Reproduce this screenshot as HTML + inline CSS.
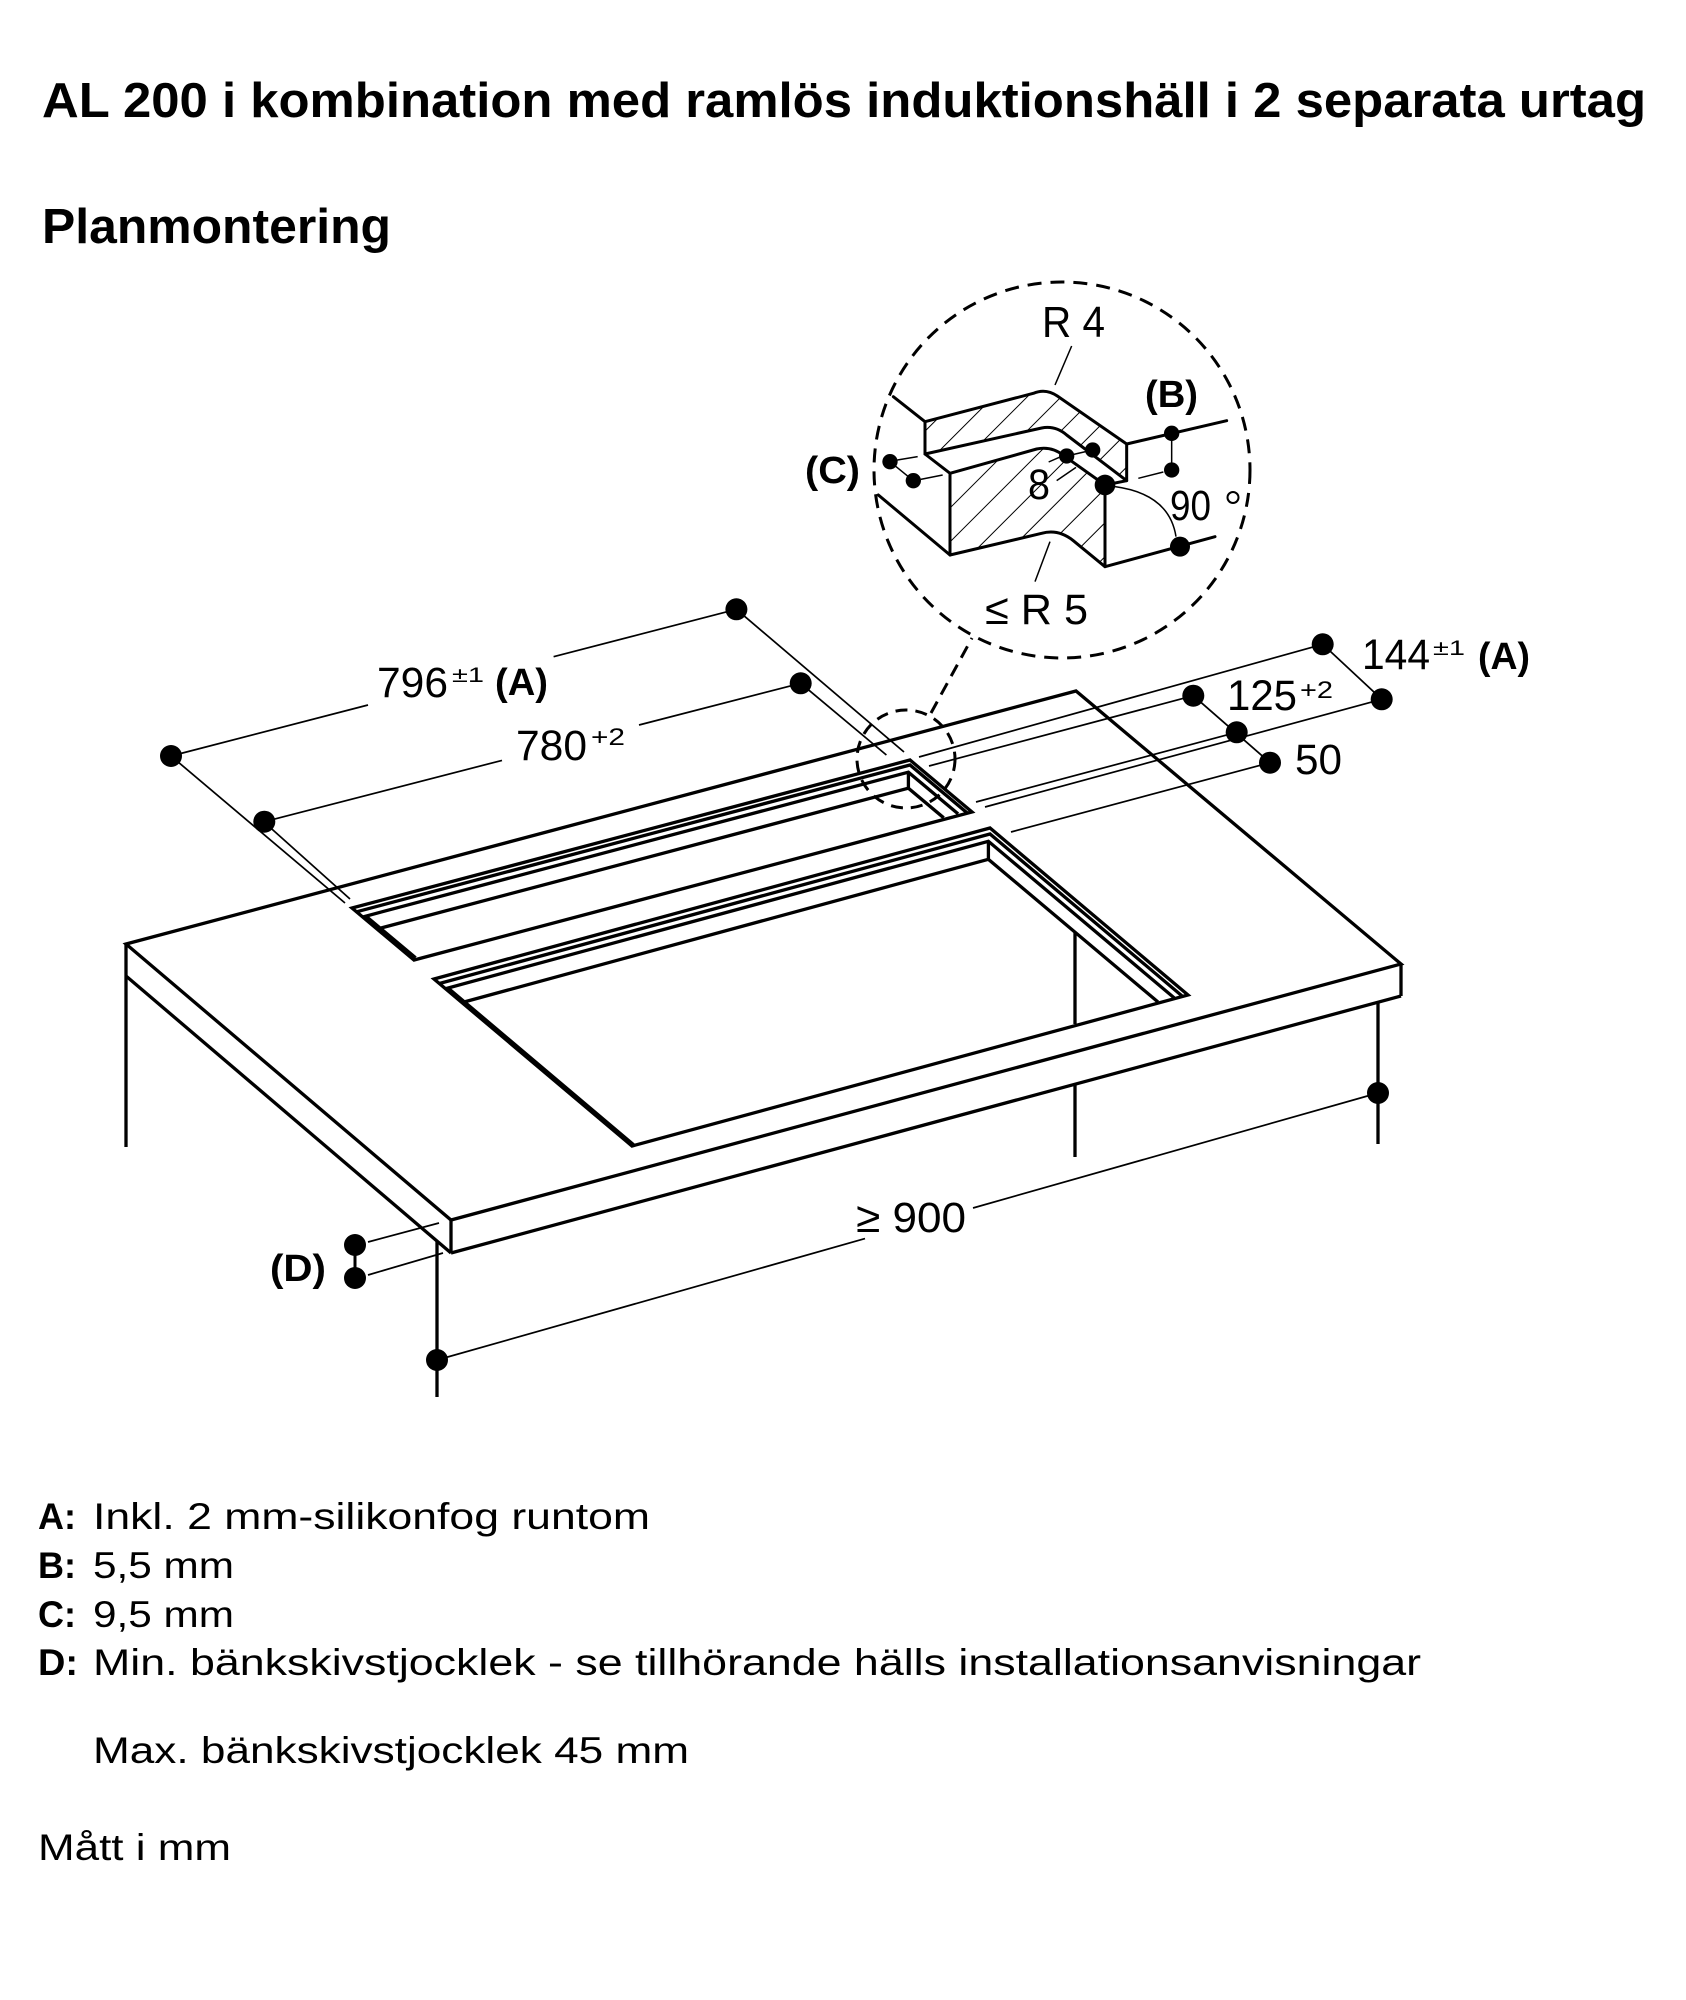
<!DOCTYPE html>
<html>
<head>
<meta charset="utf-8">
<style>
html,body{margin:0;padding:0;background:#fff;}
svg{display:block;}
text{font-family:"Liberation Sans",Arial,sans-serif;fill:#000;}
</style>
</head>
<body>
<svg xmlns="http://www.w3.org/2000/svg" width="1686" height="2000" viewBox="0 0 1686 2000">
<defs>
<pattern id="hatch" patternUnits="userSpaceOnUse" width="72" height="72" patternTransform="rotate(45)">
<line x1="0" y1="0" x2="0" y2="72" stroke="#000" stroke-width="6"/>
</pattern>
</defs>
<rect width="1686" height="2000" fill="#fff"/>

<!-- Titles -->
<text x="42" y="117" font-size="49" font-weight="bold" textLength="1604" lengthAdjust="spacingAndGlyphs">AL 200 i kombination med ramlös induktionshäll i 2 separata urtag</text>
<text x="42" y="243" font-size="49" font-weight="bold" textLength="349" lengthAdjust="spacingAndGlyphs">Planmontering</text>

<!-- Slab -->
<g fill="none" stroke="#000" stroke-width="3.3" stroke-linejoin="miter" stroke-linecap="butt">
<polygon points="126,944 1076,691 1401,964 451,1220"/>
<line x1="126" y1="944" x2="126" y2="1147"/>
<line x1="126" y1="976" x2="451" y2="1253"/>
<line x1="451" y1="1220" x2="451" y2="1253"/>
<line x1="451" y1="1253" x2="1401" y2="996"/>
<line x1="1401" y1="964" x2="1401" y2="996"/>
<line x1="437" y1="1241" x2="437" y2="1397"/>
<line x1="1378" y1="1002" x2="1378" y2="1144"/>
<line x1="1075" y1="933" x2="1075" y2="1024"/>
<line x1="1075" y1="1084" x2="1075" y2="1157"/>

<!-- Narrow cutout -->
<polygon points="352,908 910,760 972,812 414,960"/>
<polyline points="356.5,911.8 910,765 967.5,813.2"/>
<polyline points="415.6,957.8 365.9,916.1 908.4,772.2 958.1,813.9"/>
<polyline points="380.3,928.2 908.4,788.2 943.7,817.8"/>
<line x1="908.4" y1="772.2" x2="908.4" y2="788.2"/>

<!-- Big cutout -->
<polygon points="434,979 990,828 1188,995 632,1146"/>
<polyline points="439.4,983.5 990,834 1182.7,996.5"/>
<polyline points="633.6,1144.7 448,988 988.4,841.3 1174.2,997.9"/>
<polyline points="464,1002 988.4,859.3 1158,1002"/>
<line x1="988.4" y1="841.3" x2="988.4" y2="859.3"/>
</g>

<!-- Dimension lines -->
<g fill="none" stroke="#000" stroke-width="1.7">
<line x1="171" y1="756" x2="368" y2="705"/>
<line x1="553.6" y1="656.7" x2="736.4" y2="609.3"/>
<line x1="264.3" y1="821.7" x2="502" y2="760.4"/>
<line x1="639" y1="725" x2="800.7" y2="683.3"/>
<line x1="171" y1="756" x2="345" y2="903"/>
<line x1="264" y1="822" x2="350" y2="899"/>
<line x1="736.4" y1="609.3" x2="904" y2="752"/>
<line x1="800.7" y1="683.3" x2="886.4" y2="755"/>

<line x1="1322.7" y1="644.3" x2="919" y2="757"/>
<line x1="1381.7" y1="699.3" x2="985" y2="807"/>
<line x1="1322.7" y1="644.3" x2="1381.7" y2="699.3"/>
<line x1="1193.3" y1="695.7" x2="929" y2="766"/>
<line x1="1236.7" y1="732.3" x2="976" y2="802"/>
<line x1="1193.3" y1="695.7" x2="1270" y2="762.7"/>
<line x1="1270" y1="762.7" x2="1011" y2="832"/>

<line x1="437" y1="1360" x2="865" y2="1238.6"/>
<line x1="973" y1="1208" x2="1378" y2="1093"/>

<line x1="355" y1="1245" x2="355" y2="1278" stroke-width="3"/>
<line x1="368" y1="1242" x2="439" y2="1223"/>
<line x1="368" y1="1275" x2="443" y2="1253"/>
</g>

<!-- Dots -->
<g fill="#000">
<circle cx="171" cy="756" r="11"/>
<circle cx="264.3" cy="821.7" r="11"/>
<circle cx="736.4" cy="609.3" r="11"/>
<circle cx="800.7" cy="683.3" r="11"/>
<circle cx="1322.7" cy="644.3" r="11"/>
<circle cx="1381.7" cy="699.3" r="11"/>
<circle cx="1193.3" cy="695.7" r="11"/>
<circle cx="1236.7" cy="732.3" r="11"/>
<circle cx="1270" cy="762.7" r="11"/>
<circle cx="437" cy="1360" r="11"/>
<circle cx="1378" cy="1093" r="11"/>
<circle cx="355" cy="1245" r="11"/>
<circle cx="355" cy="1278" r="11"/>
</g>

<!-- Dimension labels -->
<text x="377" y="697" font-size="43" textLength="71" lengthAdjust="spacingAndGlyphs">796</text>
<text x="452" y="682" font-size="21" textLength="32" lengthAdjust="spacingAndGlyphs">±1</text>
<text x="495" y="695" font-size="38" font-weight="bold" textLength="53" lengthAdjust="spacingAndGlyphs">(A)</text>

<text x="516" y="760" font-size="43" textLength="71" lengthAdjust="spacingAndGlyphs">780</text>
<text x="591" y="745" font-size="24" textLength="34" lengthAdjust="spacingAndGlyphs">+2</text>

<text x="1362" y="669" font-size="43" textLength="68" lengthAdjust="spacingAndGlyphs">144</text>
<text x="1433" y="655" font-size="21" textLength="32" lengthAdjust="spacingAndGlyphs">±1</text>
<text x="1478" y="669" font-size="38" font-weight="bold" textLength="52" lengthAdjust="spacingAndGlyphs">(A)</text>

<text x="1227" y="710" font-size="43" textLength="70" lengthAdjust="spacingAndGlyphs">125</text>
<text x="1300" y="698" font-size="24" textLength="33" lengthAdjust="spacingAndGlyphs">+2</text>

<text x="1295" y="774" font-size="43" textLength="47" lengthAdjust="spacingAndGlyphs">50</text>

<text x="856" y="1232" font-size="43" textLength="110" lengthAdjust="spacingAndGlyphs">≥ 900</text>

<text x="270" y="1281" font-size="38" font-weight="bold" textLength="56" lengthAdjust="spacingAndGlyphs">(D)</text>

<!-- Dashed callouts -->
<g fill="none" stroke="#000" stroke-width="3">
<circle cx="1062" cy="470" r="188" stroke-dasharray="14 9"/>
<circle cx="906" cy="759" r="49" stroke-dasharray="12 8"/>
<line x1="931" y1="713" x2="972" y2="638" stroke-dasharray="13 8"/>
</g>

<!-- Detail (zoom coords, 3x) -->
<g transform="translate(780 270) scale(0.333333)">
<path d="M435,455 L760,370 Q797,354 832,378 L1040,522 L1040,632 L860,495 Q826,466 785,474 L435,552 Z" fill="url(#hatch)" stroke="#000" stroke-width="9" stroke-linejoin="round"/>
<path d="M510,610 L770,537 Q815,528 850,556 L975,645 L975,890 L880,812 Q835,776 785,790 L510,855 Z" fill="url(#hatch)" stroke="#000" stroke-width="9" stroke-linejoin="round"/>
<g fill="none" stroke="#000" stroke-width="9" stroke-linecap="round">
<line x1="435" y1="552" x2="510" y2="610"/>
<line x1="975" y1="645" x2="1040" y2="632"/>
<line x1="340" y1="380" x2="435" y2="455"/>
<line x1="295" y1="675" x2="510" y2="855"/>
<line x1="1040" y1="522" x2="1340" y2="452"/>
<line x1="975" y1="890" x2="1305" y2="800"/>
</g>
<g fill="none" stroke="#000" stroke-width="4.5">
<line x1="330" y1="575" x2="400" y2="632"/>
<line x1="352" y1="570" x2="413" y2="560"/>
<line x1="422" y1="628" x2="488" y2="615"/>
<line x1="1175" y1="490" x2="1175" y2="600"/>
<line x1="1075" y1="625" x2="1150" y2="606"/>
<line x1="860" y1="558" x2="938" y2="540"/>
<line x1="830" y1="632" x2="888" y2="592"/>
<line x1="806" y1="576" x2="838" y2="562"/>
<path d="M1005,650 Q1168,672 1188,800"/>
<line x1="875" y1="228" x2="825" y2="345"/>
<line x1="810" y1="815" x2="765" y2="935"/>
</g>
<g fill="#000">
<circle cx="330" cy="575" r="23"/>
<circle cx="400" cy="632" r="23"/>
<circle cx="1175" cy="490" r="23"/>
<circle cx="1175" cy="600" r="23"/>
<circle cx="860" cy="558" r="23"/>
<circle cx="938" cy="540" r="23"/>
<circle cx="975" cy="645" r="31"/>
<circle cx="1200" cy="830" r="30"/>
</g>
</g>

<!-- Detail labels -->
<text x="1042" y="337" font-size="44" textLength="63" lengthAdjust="spacingAndGlyphs">R 4</text>
<text x="1145" y="407" font-size="38" font-weight="bold" textLength="53" lengthAdjust="spacingAndGlyphs">(B)</text>
<text x="805" y="483" font-size="38" font-weight="bold" textLength="55" lengthAdjust="spacingAndGlyphs">(C)</text>
<text x="1028" y="499" font-size="43" textLength="22" lengthAdjust="spacingAndGlyphs">8</text>
<text x="1170" y="520" font-size="43" textLength="41" lengthAdjust="spacingAndGlyphs">90</text>
<circle cx="1233" cy="497.5" r="5.5" fill="none" stroke="#000" stroke-width="2"/>
<text x="985" y="624" font-size="43" textLength="103" lengthAdjust="spacingAndGlyphs">≤ R 5</text>

<!-- Legend -->
<g font-size="37">
<text x="38" y="1529" font-weight="bold" textLength="38" lengthAdjust="spacingAndGlyphs">A:</text>
<text x="93" y="1529" textLength="557" lengthAdjust="spacingAndGlyphs">Inkl. 2 mm-silikonfog runtom</text>
<text x="38" y="1578" font-weight="bold" textLength="38" lengthAdjust="spacingAndGlyphs">B:</text>
<text x="93" y="1578" textLength="141" lengthAdjust="spacingAndGlyphs">5,5 mm</text>
<text x="38" y="1627" font-weight="bold" textLength="38" lengthAdjust="spacingAndGlyphs">C:</text>
<text x="93" y="1627" textLength="141" lengthAdjust="spacingAndGlyphs">9,5 mm</text>
<text x="38" y="1675" font-weight="bold" textLength="40" lengthAdjust="spacingAndGlyphs">D:</text>
<text x="93" y="1675" textLength="1328" lengthAdjust="spacingAndGlyphs">Min. bänkskivstjocklek - se tillhörande hälls installationsanvisningar</text>
<text x="93" y="1763" textLength="596" lengthAdjust="spacingAndGlyphs">Max. bänkskivstjocklek 45 mm</text>
<text x="38" y="1860" textLength="193" lengthAdjust="spacingAndGlyphs">Mått i mm</text>
</g>
</svg>
</body>
</html>
